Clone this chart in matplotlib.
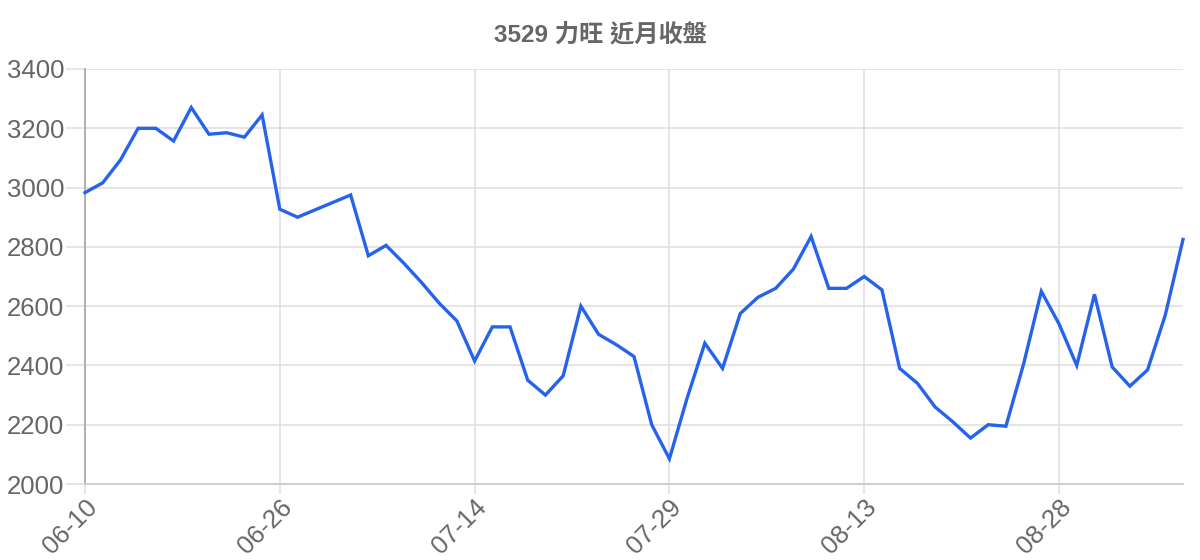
import matplotlib
matplotlib.use("Agg")
import matplotlib.pyplot as plt

# closing prices, one per trading day (06-10 .. early Sep)
closes = [
    2983, 3016, 3093, 3200, 3200, 3157, 3270, 3180, 3185, 3170, 3245,
    2927, 2900, 2925, 2950, 2975, 2770, 2805, 2745, 2680, 2610, 2550,
    2415, 2530, 2530, 2350, 2300, 2365, 2600, 2505, 2470, 2430, 2200,
    2085, 2290, 2475, 2390, 2575, 2630, 2660, 2725, 2835, 2660, 2660,
    2700, 2655, 2390, 2340, 2260, 2210, 2155, 2200, 2195, 2405, 2650,
    2540, 2400, 2640, 2395, 2330, 2385, 2570, 2825,
]
tick_labels = ["06-10", "06-26", "07-14", "07-29", "08-13", "08-28"]
tick_every = 11
yticks = [2000, 2200, 2400, 2600, 2800, 3000, 3200, 3400]
title = "3529 力旺 近月收盤"

fonts = ["Liberation Sans", "Noto Sans CJK TC", "DejaVu Sans"]
plt.rcParams["font.family"] = fonts
grey = "#666666"
grid = "#dedede"

fig = plt.figure(figsize=(12, 5.6), dpi=100)
W, H = 1200, 560
ax = fig.add_axes([85 / W, 1 - 484 / H, (1183 - 85) / W, (484 - 69) / H])

x = list(range(len(closes)))
ax.plot(x, closes, color="#2563eb", lw=2.4, solid_joinstyle="miter", clip_on=False, zorder=3)

ax.set_xlim(0, len(closes) - 1)
ax.set_ylim(yticks[0], yticks[-1])

ax.set_xticks(list(range(0, len(closes), tick_every))[:len(tick_labels)])
ax.set_xticklabels(tick_labels, rotation=45, ha="right", va="top",
                   rotation_mode="anchor")
ax.set_yticks(yticks)
ax.set_yticklabels([str(v) for v in yticks])

ax.grid(True, color=grid, lw=1.1)
ax.set_axisbelow(True)
ax.tick_params(axis="y", length=14, width=1.1, color=grid, pad=1,
               labelsize=18.5, labelcolor=grey)
ax.tick_params(axis="x", length=7, width=1.1, color=grid, pad=1,
               labelsize=18.5, labelcolor=grey)
ax.get_xticklines()[0].set_color("#aaaaaa")

for s in ("top", "right"):
    ax.spines[s].set_visible(False)
ax.spines["left"].set_color("#aaaaaa")
ax.spines["left"].set_linewidth(1.3)
ax.spines["bottom"].set_color("#cccccc")
ax.spines["bottom"].set_linewidth(1.3)

fig.text(0.5, 1 - 35 / H, title, ha="center", va="center",
         fontsize=17.5, fontweight="bold", color=grey)

fig.savefig("out.png", dpi=100)
